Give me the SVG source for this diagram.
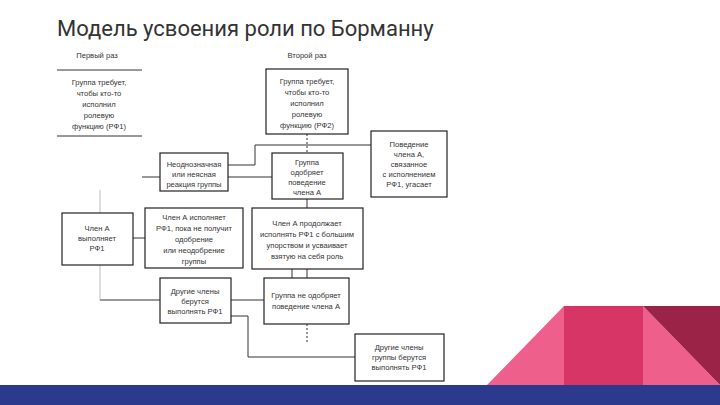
<svg xmlns="http://www.w3.org/2000/svg" width="720" height="405" viewBox="0 0 720 405">
<style>
.b{fill:#fff;stroke:#222;stroke-width:1.2}
.t{font-family:"Liberation Sans",Arial,sans-serif;font-size:7.6px;fill:#333;text-anchor:middle}
.c{fill:none;stroke:#333;stroke-width:1}
.l{fill:none;stroke:#aaa;stroke-width:0.8}
.d{fill:none;stroke:#333;stroke-width:1;stroke-dasharray:2,2}
</style>
<rect width="720" height="405" fill="#fff"/>
<text x="57" y="36" font-family="Roboto,'Liberation Sans',sans-serif" font-size="22" fill="#333">Модель усвоения роли по Борманну</text>
<polygon points="487,385 564,306 564,385" fill="#ef5f8b"/>
<rect x="564" y="306" width="79" height="79" fill="#d63566"/>
<polygon points="643,306 720,385 643,385" fill="#ef5f8b"/>
<polygon points="643,306 720,306 720,385" fill="#9b2348"/>
<rect x="0" y="385" width="720" height="20" fill="#2b3a8c"/>
<g id="connectors">
<path class="d" d="M307,134V153M307,324V344"/>
<path class="c" d="M255,145H371M228,165H255V145M228,177H272M142,177H160M133,238H145M307,199V208M292,269V278M307,269V278M231,300H264M231,316H248V357H355M100,300H160"/>
<path class="l" d="M100,190V300"/>
</g>
<g id="h1"><text class="t" x="97" y="58">Первый раз</text></g>
<g id="h2"><text class="t" x="307" y="58">Второй раз</text></g>
<g id="n1"><path class="c" d="M57,70H142M57,136H142" stroke="#666"/>
<text class="t" x="99" y="85">Группа требует,</text><text class="t" x="99" y="96">чтобы кто-то</text><text class="t" x="99" y="107">исполнил</text><text class="t" x="99" y="118">ролевую</text><text class="t" x="99" y="129">функцию (РФ1)</text></g>
<g id="n2"><rect class="b" x="266" y="69" width="82" height="65"/>
<text class="t" x="307" y="84">Группа требует,</text><text class="t" x="307" y="95">чтобы кто-то</text><text class="t" x="307" y="106">исполнил</text><text class="t" x="307" y="117">ролевую</text><text class="t" x="307" y="128">функцию (РФ2)</text></g>
<g id="n3"><rect class="b" x="160" y="153" width="68" height="38"/>
<text class="t" x="194" y="167">Неоднозначная</text><text class="t" x="194" y="177">или неясная</text><text class="t" x="194" y="187">реакция группы</text></g>
<g id="n4"><rect class="b" x="272" y="153" width="71" height="46"/>
<text class="t" x="307" y="165">Группа</text><text class="t" x="307" y="175">одобряет</text><text class="t" x="307" y="185">поведение</text><text class="t" x="307" y="195">члена А</text></g>
<g id="n5"><rect class="b" x="371" y="131" width="76" height="66"/>
<text class="t" x="409" y="147">Поведение</text><text class="t" x="409" y="157">члена А,</text><text class="t" x="409" y="167">связанное</text><text class="t" x="409" y="177">с исполнением</text><text class="t" x="409" y="187">РФ1, угасает</text></g>
<g id="n6"><rect class="b" x="62" y="213" width="71" height="52"/>
<text class="t" x="97" y="231">Член А</text><text class="t" x="97" y="241">выполняет</text><text class="t" x="97" y="251">РФ1</text></g>
<g id="n7"><rect class="b" x="145" y="208" width="98" height="60"/>
<text class="t" x="194" y="220">Член А исполняет</text><text class="t" x="194" y="231">РФ1, пока не получит</text><text class="t" x="194" y="242">одобрение</text><text class="t" x="194" y="253">или неодобрение</text><text class="t" x="194" y="264">группы</text></g>
<g id="n8"><rect class="b" x="252" y="208" width="111" height="61"/>
<text class="t" x="307" y="226">Член А продолжает</text><text class="t" x="307" y="237">исполнять РФ1 с большим</text><text class="t" x="307" y="248">упорством и усваивает</text><text class="t" x="307" y="259">взятую на себя роль</text></g>
<g id="n9"><rect class="b" x="160" y="278" width="71" height="45"/>
<text class="t" x="195" y="294">Другие члены</text><text class="t" x="195" y="304">берутся</text><text class="t" x="195" y="314">выполнять РФ1</text></g>
<g id="n10"><rect class="b" x="264" y="278" width="85" height="46"/>
<text class="t" x="306" y="298">Группа не одобряет</text><text class="t" x="306" y="309">поведение члена А</text></g>
<g id="n11"><rect class="b" x="355" y="334" width="89" height="47"/>
<text class="t" x="399" y="350">Другие члены</text><text class="t" x="399" y="360">группы берутся</text><text class="t" x="399" y="370">выполнять РФ1</text></g>
</svg>
